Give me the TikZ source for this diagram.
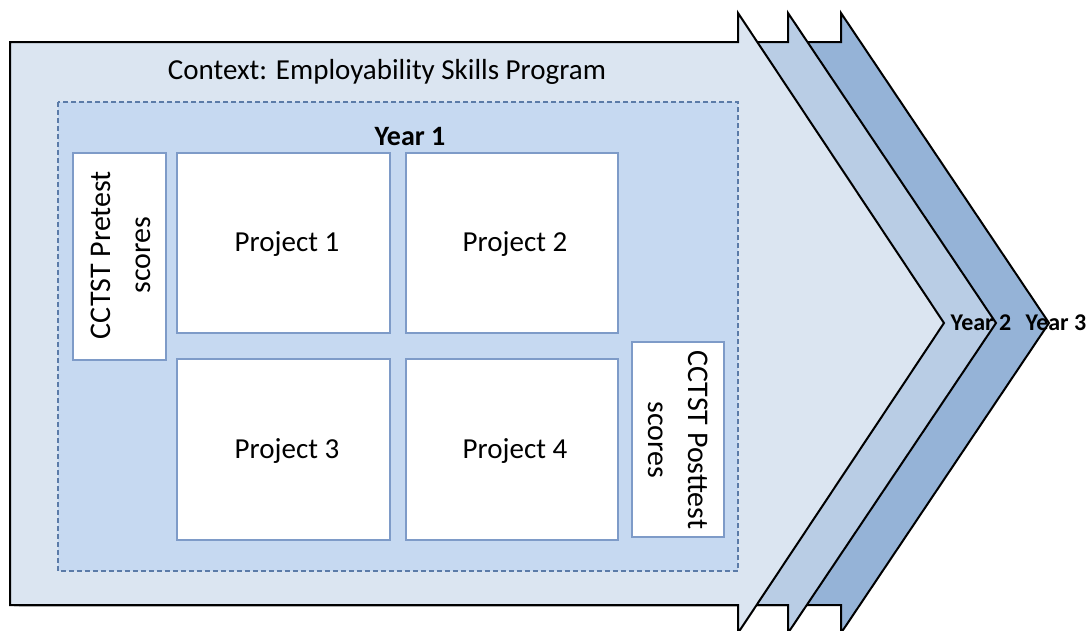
\documentclass[tikz,border=0pt]{standalone}
\usepackage{fontspec}
\setmainfont{Carlito}
\definecolor{arrowA}{HTML}{DBE5F1}
\definecolor{arrowB}{HTML}{B9CDE5}
\definecolor{arrowC}{HTML}{95B3D7}
\definecolor{yearfill}{HTML}{C6D9F1}
\definecolor{dashcol}{HTML}{5B7BA8}
\definecolor{boxline}{HTML}{7E9BC8}
\begin{document}
\begin{tikzpicture}[x=1pt,y=-1pt,
  arrowpath/.style={draw=black,line width=2pt,line join=miter},
  whitebox/.style={draw=boxline,fill=white,line width=1.3pt},
  lbl/.style={font=\fontsize{29}{35}\selectfont,text=black,inner sep=0pt},
  rotlbl/.style={font=\fontsize{30}{40}\selectfont,text=black,inner sep=0pt,align=center},
  yearlbl/.style={font=\fontsize{24}{28}\bfseries\selectfont,text=black,inner sep=0pt}]
\useasboundingbox (0,0) rectangle (1087,630);
% back arrows
\draw[arrowpath,fill=arrowC] (20,42) -- (841,42) -- (841,13) -- (1049,323) -- (841,633) -- (841,605) -- (20,605) -- cycle;
\draw[arrowpath,fill=arrowB] (15,42) -- (788,42) -- (788,13) -- (996,323) -- (788,633) -- (788,605) -- (15,605) -- cycle;
\draw[arrowpath,fill=arrowA] (10,42) -- (738,42) -- (738,13) -- (944,323) -- (738,633) -- (738,605) -- (10,605) -- cycle;
% year 1 area
\draw[draw=dashcol,fill=yearfill,line width=1.5pt,dash pattern=on 5pt off 3pt] (58,102) rectangle (738,571);
% white boxes
\draw[whitebox] (73,153) rectangle (166,360);
\draw[whitebox] (177,153) rectangle (390,333);
\draw[whitebox] (406,153) rectangle (618,333);
\draw[whitebox] (177,359) rectangle (390,540);
\draw[whitebox] (406,359) rectangle (618,540);
\draw[whitebox] (632,342) rectangle (724,537);
% labels
\node[lbl] (context) at (387,72) {Context: Employability Skills Program};
\node[lbl,font=\fontsize{28}{34}\bfseries\selectfont] (year1) at (410,137) {Year 1};
\node[lbl] (p1) at (287,244) {Project 1};
\node[lbl] (p2) at (515,244) {Project 2};
\node[lbl] (p3) at (287,451) {Project 3};
\node[lbl] (p4) at (515,451) {Project 4};
\node[rotlbl,rotate=90] (pre) at (121,255) {CCTST Pretest\\scores};
\node[rotlbl,rotate=-90] (post) at (678,440) {CCTST Posttest\\scores};
\node[yearlbl] (y2) at (981,323) {Year 2};
\node[yearlbl] (y3) at (1056,323) {Year 3};
\end{tikzpicture}
\end{document}
